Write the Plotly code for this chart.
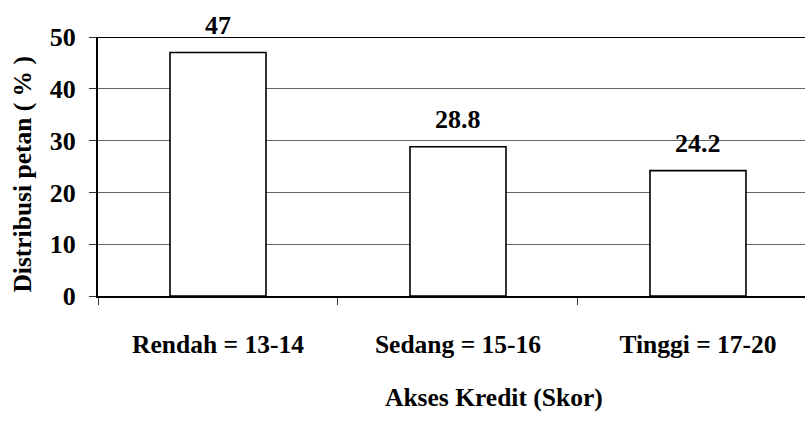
import plotly.graph_objects as go

categories = ["Rendah = 13-14", "Sedang = 15-16", "Tinggi = 17-20"]
values = [47, 28.8, 24.2]
value_labels = ["47", "28.8", "24.2"]
y_ticks = [0, 10, 20, 30, 40, 50]

FONT = "Liberation Serif, Times New Roman, serif"

fig = go.Figure(
    go.Bar(
        x=categories,
        y=values,
        width=0.4,
        marker=dict(color="white", line=dict(color="black", width=1.6)),
        hoverinfo="x+y",
    )
)

# value labels above each bar
for cat, val, lab in zip(categories, values, value_labels):
    fig.add_annotation(
        x=cat, y=val, text=f"<b>{lab}</b>", showarrow=False,
        yanchor="middle", yshift=27,
        font=dict(family=FONT, size=26, color="black"),
    )

# axis titles
fig.add_annotation(
    xref="paper", yref="paper", x=0.56, y=-0.39,
    text="<b>Akses Kredit (Skor)</b>", showarrow=False,
    xanchor="center", yanchor="middle",
    font=dict(family=FONT, size=25.5, color="black"),
)
fig.add_annotation(
    xref="paper", yref="paper", x=-0.107, y=0.47,
    text="<b>Distribusi petan ( % )</b>", showarrow=False, textangle=-90,
    xanchor="center", yanchor="middle",
    font=dict(family=FONT, size=25.5, color="black"),
)

fig.update_layout(
    width=805,
    height=430,
    margin=dict(l=98, r=0, t=37, b=134),
    paper_bgcolor="white",
    plot_bgcolor="white",
    showlegend=False,
    font=dict(family=FONT, color="black"),
    xaxis=dict(
        type="category",
        range=[-0.5, 2.446],
        tickson="boundaries",
        ticks="outside",
        ticklen=7,
        tickwidth=1.2,
        tickcolor="#333",
        ticklabelstandoff=25,
        tickfont=dict(family=FONT, size=25.5, color="black", weight="bold"),
        showline=True,
        linecolor="black",
        linewidth=1.6,
        showgrid=False,
    ),
    yaxis=dict(
        range=[0, 50],
        tickvals=y_ticks,
        ticks="outside",
        ticklen=7,
        tickwidth=1.2,
        tickcolor="#333",
        ticklabelstandoff=8,
        tickfont=dict(family=FONT, size=26, color="black", weight="bold"),
        showline=True,
        linecolor="black",
        linewidth=2,
        showgrid=True,
        gridcolor="#666",
        gridwidth=1,
        zeroline=False,
    ),
    shapes=[
        dict(type="line", xref="paper", yref="y", x0=0, x1=1, y0=50, y1=50,
             line=dict(color="black", width=2)),
    ],
)

fig.write_html("out.html")
